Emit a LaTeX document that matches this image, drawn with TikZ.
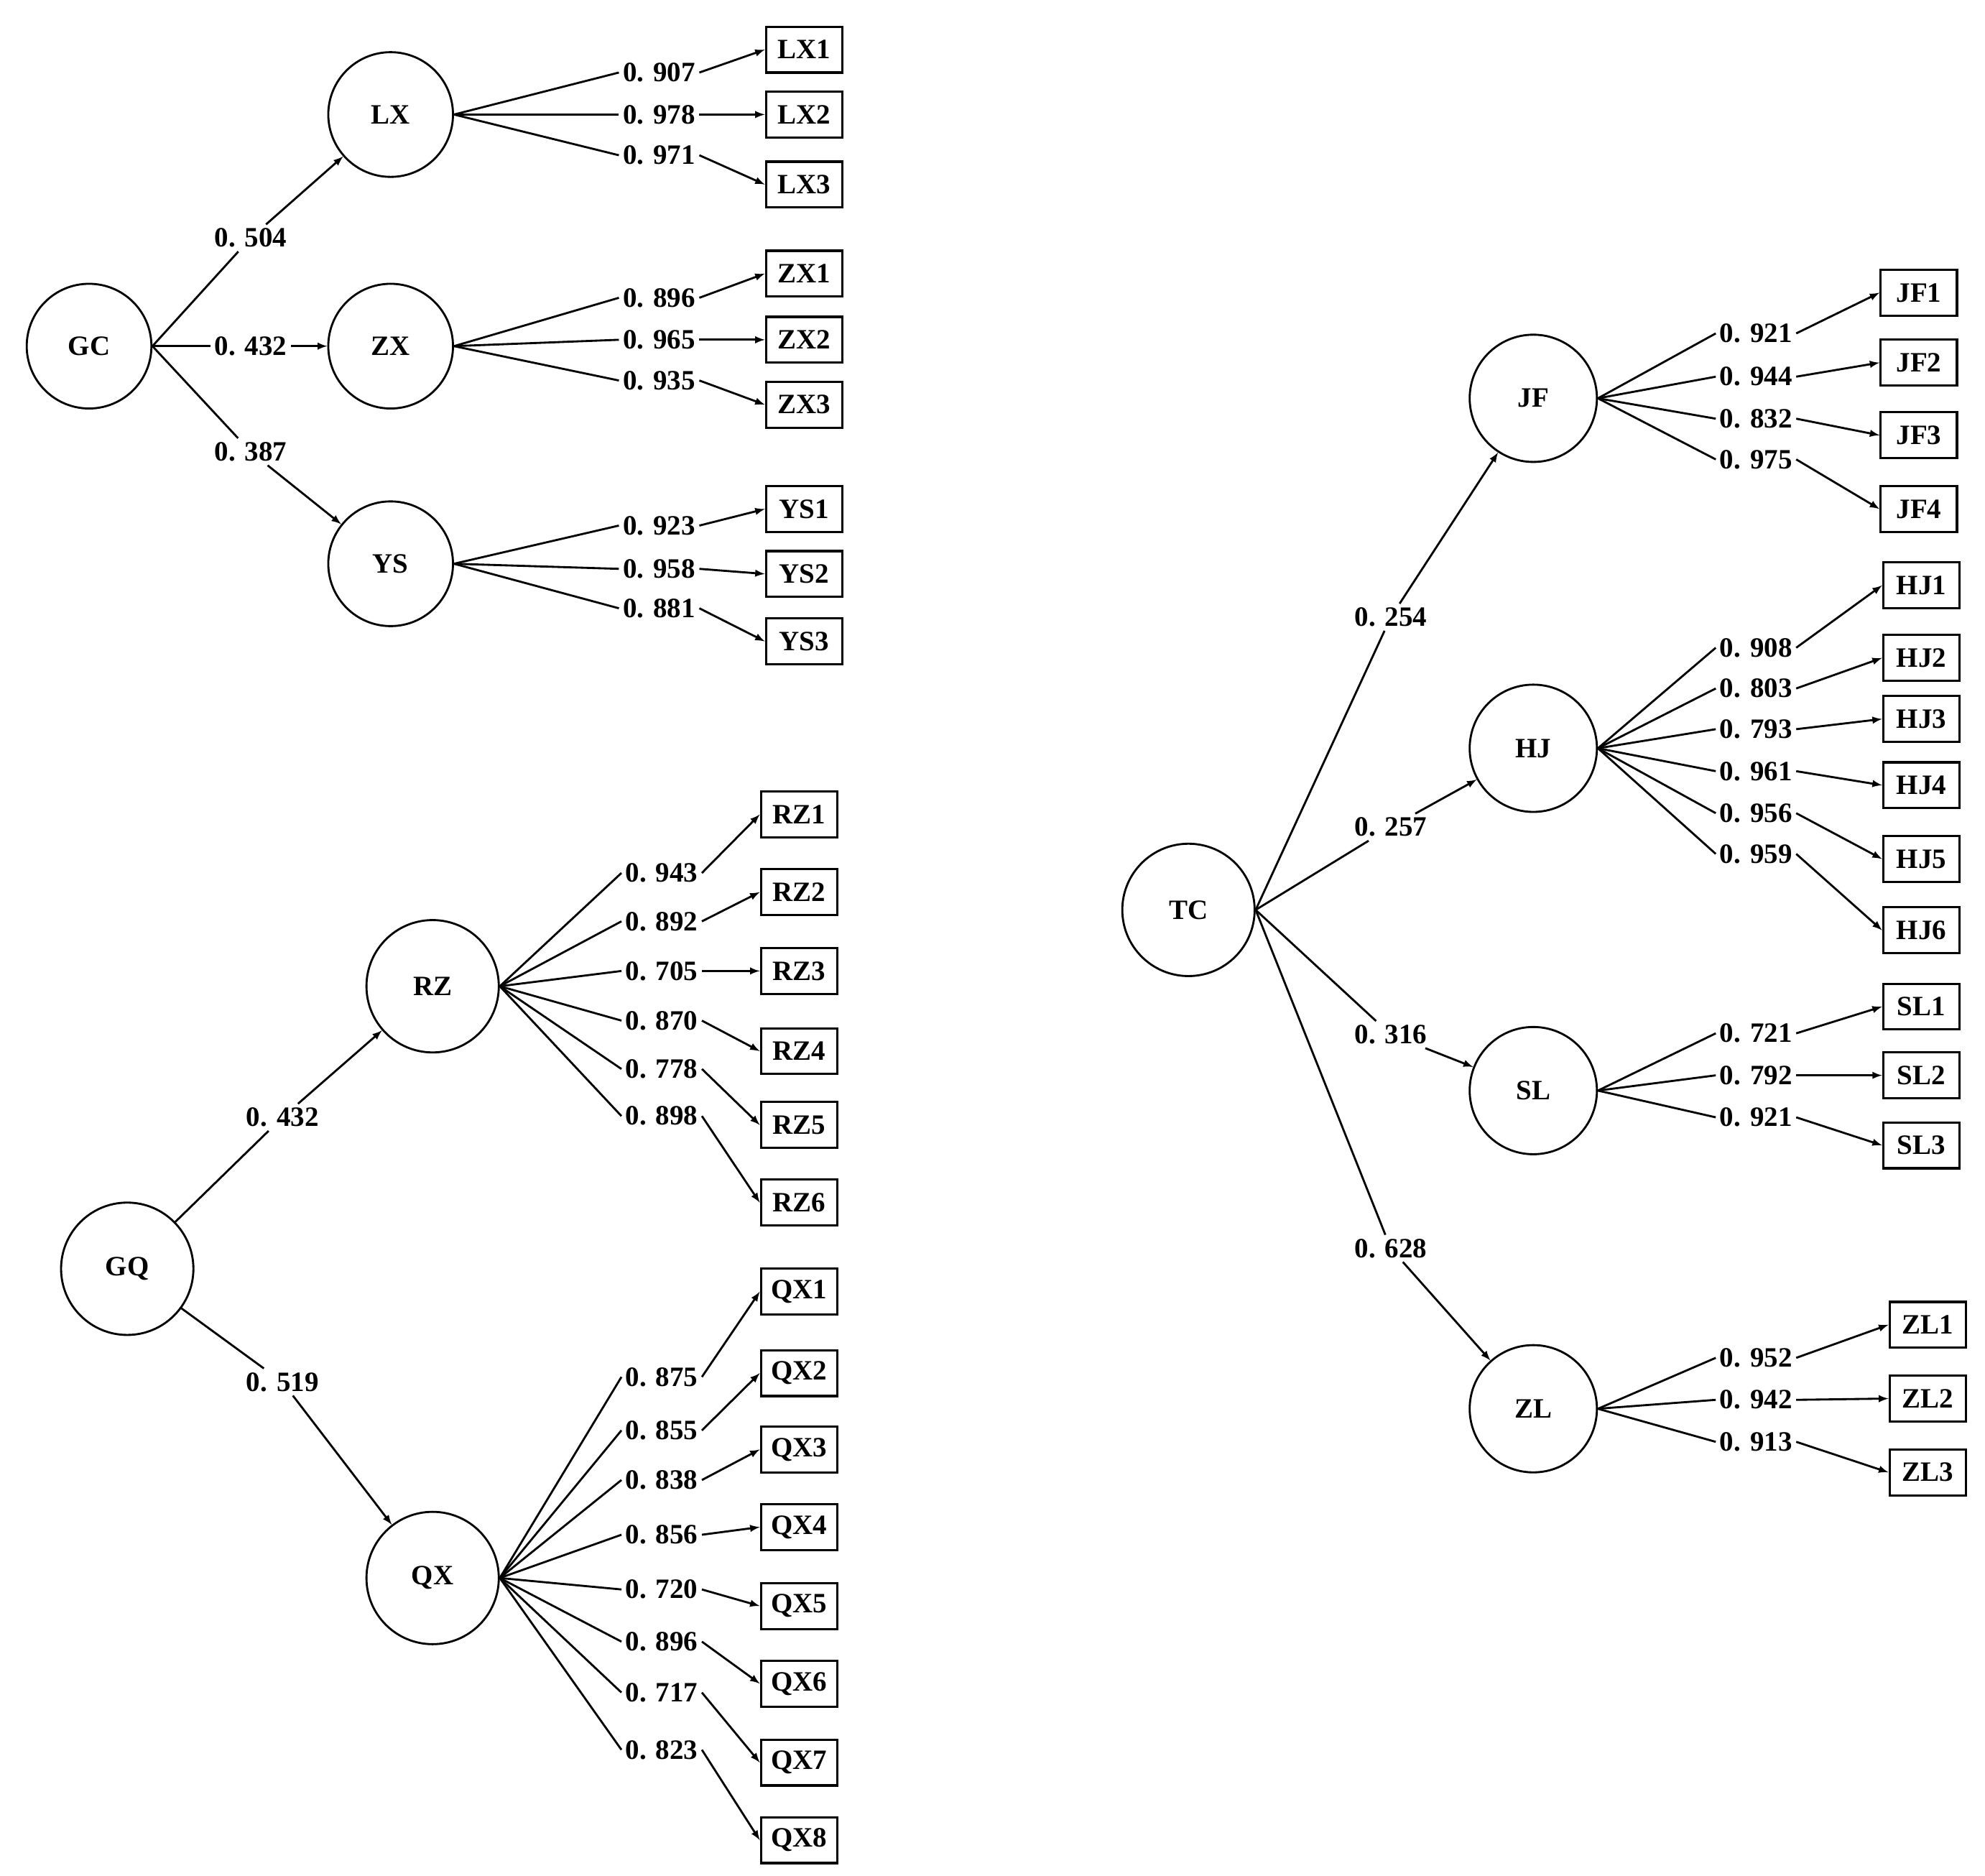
\documentclass[tikz,border=0pt]{standalone}
\usepackage{fontspec}
\setmainfont{Liberation Serif}
\begin{document}
\begin{tikzpicture}[x=1pt,y=-1pt,font=\fontsize{22}{24}\selectfont\bfseries,
  lat/.style={circle,draw,line width=1.6pt,minimum size=98pt,inner sep=0pt},
  obs/.style={draw,line width=1.8pt,minimum width=60pt,minimum height=36pt,inner sep=1pt},
  lab/.style={inner sep=3pt,fill=white},
  ln/.style={line width=1.6pt},
  ar/.style={line width=1.6pt,-latex}]
\useasboundingbox (0,0) rectangle (1560,1474);
% sub-tree helper
\newcommand{\mybranch}[4]{% parent, labelx, boxx, list
  \foreach \n/\v/\ly/\by in {#4}{
    \node[lab] (L\n) at (#2,\ly) {\v};
    \node[obs] (\n) at (#3,\by) {\n};
    \draw[ln] (#1.east) -- (L\n.west);
    \draw[ar] (L\n.east) -- (\n.west);
  }}
% GC
\node[lat] (GC) at (70,272) {GC};
\node[lat] (LX) at (307,90) {LX};
\node[lat] (ZX) at (307,272) {ZX};
\node[lat] (YS) at (307,443) {YS};
\node[lab] (g1) at (197,187) {0. 504};
\node[lab] (g2) at (197,272) {0. 432};
\node[lab] (g3) at (197,355) {0. 387};
\draw[ln] (GC.east) -- (g1); \draw[ar] (g1) -- (LX);
\draw[ln] (GC.east) -- (g2.west); \draw[ar] (g2.east) -- (ZX);
\draw[ln] (GC.east) -- (g3); \draw[ar] (g3) -- (YS);
\mybranch{LX}{518}{632}{LX1/0. 907/57/39, LX2/0. 978/90/90, LX3/0. 971/122/145}
\mybranch{ZX}{518}{632}{ZX1/0. 896/234/215, ZX2/0. 965/267/267, ZX3/0. 935/299/318}
\mybranch{YS}{518}{632}{YS1/0. 923/413/400, YS2/0. 958/447/451, YS3/0. 881/478/504}
% GQ
\node[lat,minimum size=104pt] (GQ) at (100,997) {GQ};
\node[lat,minimum size=104pt] (RZ) at (340,775) {RZ};
\node[lat,minimum size=104pt] (QX) at (340,1240) {QX};
\node[lab] (q1) at (222,878) {0. 432};
\node[lab] (q2) at (222,1086) {0. 519};
\draw[ln] (GQ) -- (q1); \draw[ar] (q1) -- (RZ);
\draw[ln] (GQ) -- (q2); \draw[ar] (q2) -- (QX);
\mybranch{RZ}{520}{628}{RZ1/0. 943/686/640, RZ2/0. 892/724/701, RZ3/0. 705/763/763, RZ4/0. 870/802/826, RZ5/0. 778/840/884, RZ6/0. 898/877/945}
\mybranch{QX}{520}{628}{QX1/0. 875/1082/1015, QX2/0. 855/1124/1079, QX3/0. 838/1163/1139, QX4/0. 856/1206/1200, QX5/0. 720/1249/1262, QX6/0. 896/1290/1323, QX7/0. 717/1330/1385, QX8/0. 823/1375/1446}
% TC
\node[lat,minimum size=104pt] (TC) at (934,715) {TC};
\node[lat,minimum size=100pt] (JF) at (1205,313) {JF};
\node[lat,minimum size=100pt] (HJ) at (1205,588) {HJ};
\node[lat,minimum size=100pt] (SL) at (1205,857) {SL};
\node[lat,minimum size=100pt] (ZL) at (1205,1107) {ZL};
\node[lab] (t1) at (1093,485) {0. 254};
\node[lab] (t2) at (1093,650) {0. 257};
\node[lab] (t3) at (1093,813) {0. 316};
\node[lab] (t4) at (1093,981) {0. 628};
\draw[ln] (TC.east) -- (t1); \draw[ar] (t1) -- (JF);
\draw[ln] (TC.east) -- (t2); \draw[ar] (t2) -- (HJ);
\draw[ln] (TC.east) -- (t3); \draw[ar] (t3) -- (SL);
\draw[ln] (TC.east) -- (t4); \draw[ar] (t4) -- (ZL);
\mybranch{JF}{1380}{1508}{JF1/0. 921/262/230, JF2/0. 944/296/285, JF3/0. 832/329/342, JF4/0. 975/361/400}
\mybranch{HJ}{1380}{1510}{HJ1/0. 908/509/460, HJ2/0. 803/541/517, HJ3/0. 793/573/565, HJ4/0. 961/606/617, HJ5/0. 956/639/675, HJ6/0. 959/671/731}
\mybranch{SL}{1380}{1510}{SL1/0. 721/812/791, SL2/0. 792/845/845, SL3/0. 921/878/900}
\mybranch{ZL}{1380}{1515}{ZL1/0. 952/1067/1041, ZL2/0. 942/1100/1099, ZL3/0. 913/1133/1157}
\end{tikzpicture}
\end{document}
